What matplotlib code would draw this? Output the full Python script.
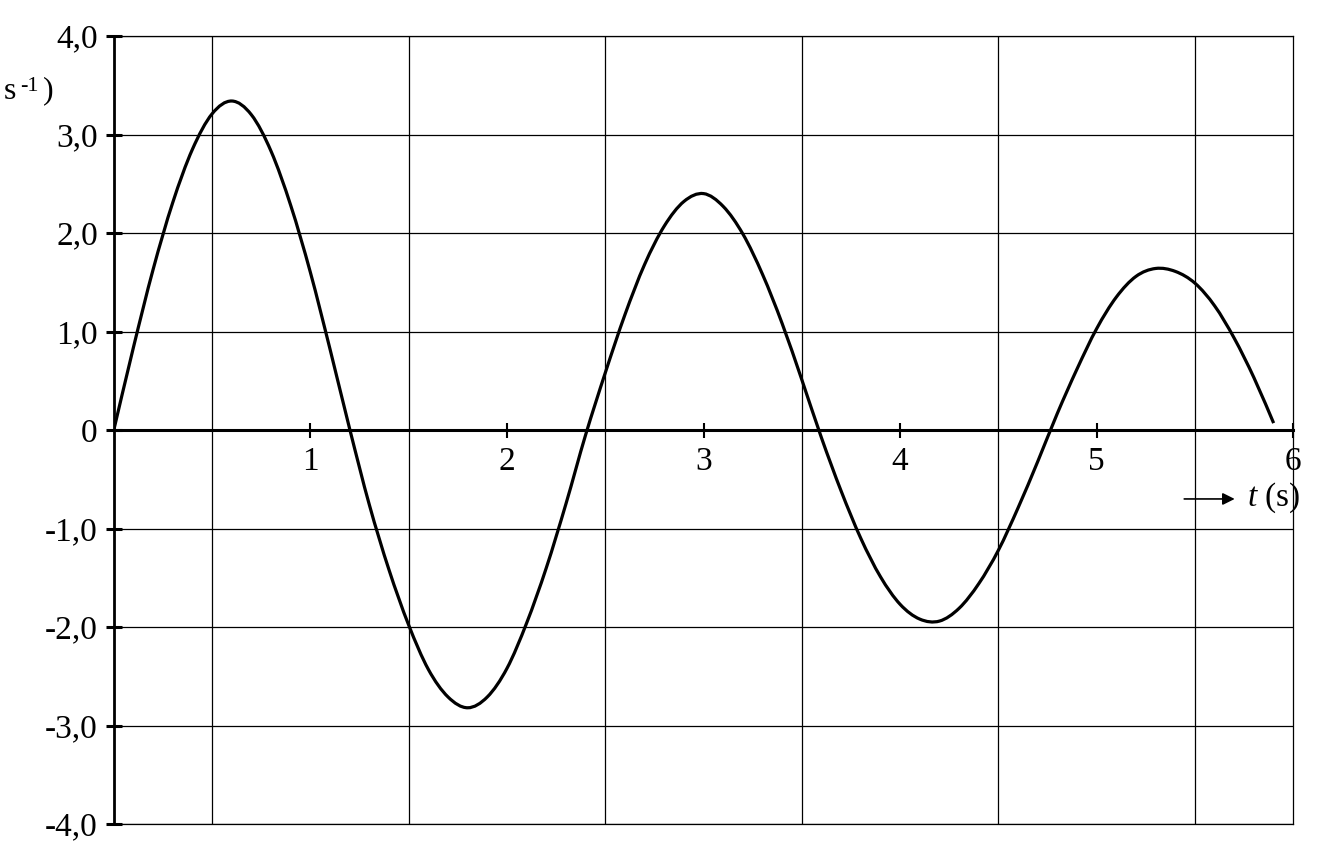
import matplotlib.pyplot as plt
import numpy as np
from matplotlib.path import Path
from matplotlib.patches import PathPatch

plt.rcParams['font.family'] = ['Liberation Serif', 'DejaVu Serif']
plt.rcParams['mathtext.fontset'] = 'custom'
plt.rcParams['mathtext.rm'] = 'Liberation Serif'
plt.rcParams['mathtext.it'] = 'Liberation Serif:italic'

# values, every 0.1 s
t = [0.0, 0.1, 0.2, 0.3, 0.4, 0.5, 0.6, 0.7, 0.8, 0.9,
     1.0, 1.1, 1.2, 1.3, 1.4, 1.5, 1.6, 1.7, 1.8, 1.9,
     2.0, 2.1, 2.2, 2.3, 2.4, 2.5, 2.6, 2.7, 2.8, 2.9,
     3.0, 3.1, 3.2, 3.3, 3.4, 3.5, 3.6, 3.7, 3.8, 3.9,
     4.0, 4.1, 4.2, 4.3, 4.4, 4.5, 4.6, 4.7, 4.8, 4.9,
     5.0, 5.1, 5.2, 5.3, 5.4, 5.5, 5.6, 5.7, 5.8, 5.9]
v = [0.00, 0.84, 1.63, 2.31, 2.85, 3.21, 3.34, 3.20, 2.83, 2.28,
     1.60, 0.82, 0.01, -0.76, -1.42, -1.98, -2.43, -2.71, -2.82, -2.71,
     -2.42, -1.96, -1.40, -0.75, -0.05, 0.58, 1.17, 1.68, 2.07, 2.32,
     2.40, 2.27, 1.99, 1.58, 1.08, 0.51, -0.08, -0.62, -1.10, -1.49,
     -1.77, -1.92, -1.94, -1.81, -1.56, -1.22, -0.79, -0.32, 0.17, 0.62,
     1.03, 1.35, 1.56, 1.64, 1.61, 1.49, 1.26, 0.93, 0.53, 0.07]

x_ticks = [1, 2, 3, 4, 5, 6]
x_labels = ['1', '2', '3', '4', '5', '6']
y_ticks = [-4, -3, -2, -1, 0, 1, 2, 3, 4]
y_labels = ['-4,0', '-3,0', '-2,0', '-1,0', '0', '1,0', '2,0', '3,0', '4,0']

W, H = 1326, 861
fig = plt.figure(figsize=(W / 100, H / 100), dpi=100)
ax = fig.add_axes([113.8 / W, 1 - 824 / H, (1293.3 - 113.8) / W, 788 / H])
ax.set_xlim(0, 6)
ax.set_ylim(-4, 4)

# grid
ax.set_xticks(np.arange(0.5, 6.01, 0.5), minor=True)
ax.grid(which='minor', axis='x', color='black', lw=0.9)
ax.grid(which='major', axis='y', color='black', lw=0.9)
ax.tick_params(which='minor', length=0)
ax.axhline(-4, color='black', lw=0.9, clip_on=False)

# spines
ax.spines['left'].set_linewidth(2.0)
ax.spines['bottom'].set_position(('data', 0))
ax.spines['bottom'].set_linewidth(2.2)
ax.spines['top'].set_linewidth(0.9)
ax.spines['right'].set_linewidth(0.9)

ax.set_xticks(x_ticks)
ax.set_xticklabels(x_labels)
ax.set_yticks(y_ticks)
ax.set_yticklabels(y_labels)
ax.tick_params(axis='y', direction='inout', length=11.5, width=2.2, labelsize=24, pad=5.8)
ax.tick_params(axis='x', direction='inout', length=10.8, width=1.5, labelsize=24, pad=6.6)
for lbl in ax.get_xticklabels():
    lbl.set_bbox(dict(facecolor='white', edgecolor='none', pad=1))

# smooth curve through the read points (Catmull-Rom -> cubic Bezier)
pts = np.column_stack([t, v])
ext = np.vstack([pts[0], pts, pts[-1]])
verts = [pts[0]]
codes = [Path.MOVETO]
for i in range(1, len(ext) - 2):
    p0, p1, p2, p3 = ext[i - 1], ext[i], ext[i + 1], ext[i + 2]
    verts += [p1 + (p2 - p0) / 6, p2 - (p3 - p1) / 6, p2]
    codes += [Path.CURVE4] * 3
ax.add_patch(PathPatch(Path(verts, codes), fill=False, lw=2.3, color='black', zorder=3))

# axis labels
ax.annotate('', xy=(5.716, -0.70), xytext=(5.431, -0.70),
            arrowprops=dict(arrowstyle='-|>', lw=1.2, color='black', mutation_scale=18))
ax.text(5.762, -0.77, '$t$ (s)', fontsize=24, va='baseline', ha='left')

fig.text(4 / W, 1 - 99 / H, 's', fontsize=23, va='baseline', ha='left')
fig.text(20 / W, 1 - 91 / H, '-1', fontsize=16, va='baseline', ha='left')
fig.text(43 / W, 1 - 98 / H, ')', fontsize=23, va='baseline', ha='left')

fig.savefig('out.png', dpi=100)
